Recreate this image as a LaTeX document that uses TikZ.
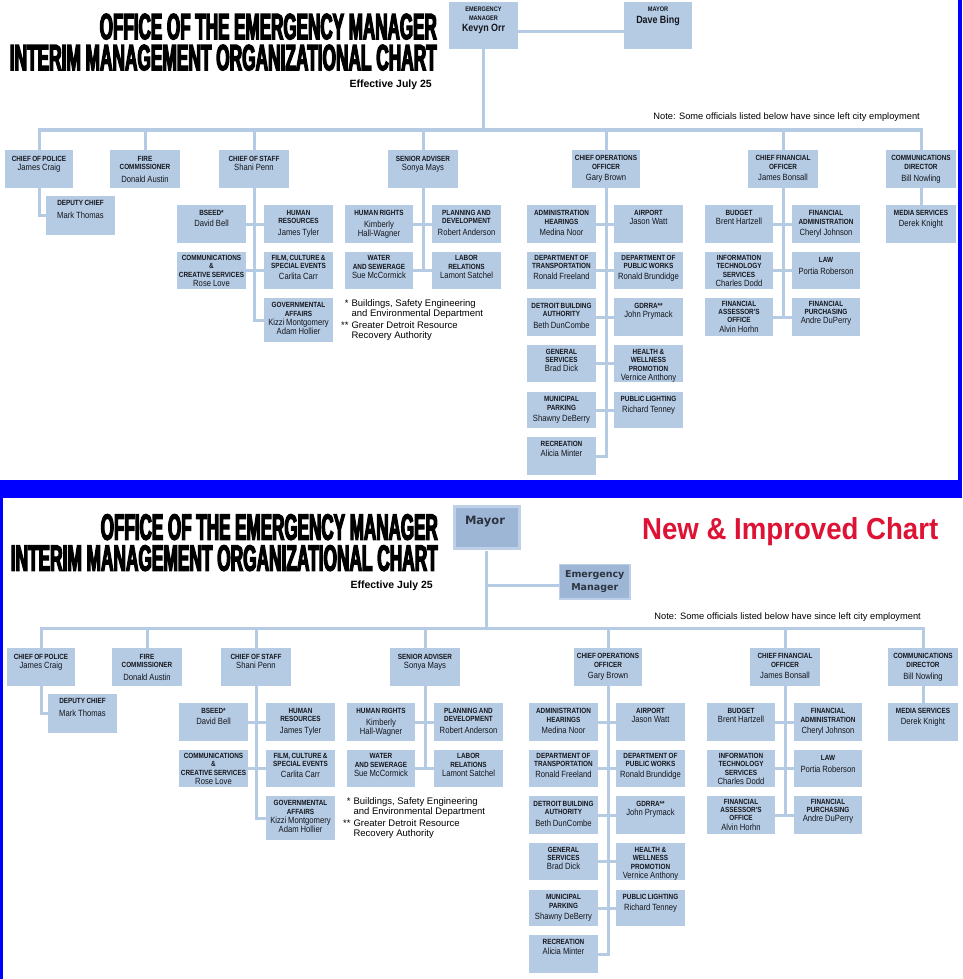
\documentclass[tikz,border=0pt]{standalone}
\usepackage{fontspec}
\usepackage{graphicx}
\setmainfont{Liberation Sans}
\newfontfamily\cf[FakeStretch=0.85]{Liberation Sans}
\newfontfamily\titlef[FakeStretch=0.5,FakeBold=3.5]{Liberation Sans}
\newfontfamily\vf{DejaVu Sans}
\definecolor{boxc}{RGB}{181,203,228}
\definecolor{linec}{RGB}{181,203,228}
\definecolor{txtc}{RGB}{20,22,28}
\definecolor{emc}{RGB}{157,182,214}
\definecolor{mayo}{RGB}{190,208,231}
\definecolor{bluebar}{RGB}{0,0,255}
\definecolor{newred}{RGB}{222,18,52}
\definecolor{hdrtxt}{RGB}{45,52,64}

\newcommand\ttl[1]{{\fontsize{7.5}{8.4}\selectfont\bfseries\spaceskip=1.2pt plus 0.5pt minus 0.3pt\relax #1\par}}
\newcommand\ttls[1]{{\fontsize{6.6}{9}\selectfont\bfseries\spaceskip=1.1pt plus 0.5pt\relax #1\par}}
\newcommand\nm[2][9.5]{{\fontsize{9}{#1}\selectfont\spaceskip=1.7pt plus 0.5pt minus 0.3pt\relax #2\par}}
\newcommand\nmb[2][11.5]{{\fontsize{10.5}{#1}\selectfont\bfseries\spaceskip=2pt plus 0.5pt\relax #2\par}}
\newcommand\titlelines{%
  \resizebox{337pt}{25.5pt}{\titlef\bfseries OFFICE OF THE EMERGENCY MANAGER}\\
  \resizebox{427pt}{25.5pt}{\titlef\bfseries INTERIM MANAGEMENT ORGANIZATIONAL CHART}}

\tikzset{
 obox/.style={fill=boxc, draw=none, inner sep=0pt, outer sep=0pt},
 otext/.style={font=\cf, align=center, inner sep=0pt, text=txtc},
 conn/.style={draw=linec, line width=3pt},
 fnote/.style={font={\fontsize{9.5}{9.3}\selectfont}, inner sep=0pt, text=black},
 notetext/.style={font={\fontsize{9.3}{10}\selectfont}, inner sep=0pt, text=black},
 titletext/.style={inner sep=0pt, text=black, align=right, font={\fontsize{10}{31}\selectfont}},
 efftext/.style={font={\fontsize{10.5}{12}\selectfont\bfseries}, inner sep=0pt, text=black},
 hdrbox/.style={fill=emc, draw=mayo, line width=1.5pt, inner sep=0pt},
 hdrtext/.style={font={\vf\bfseries}, text=hdrtxt, inner sep=0pt, align=center},
}

% optional offset, name, top-left, width, height, content
\newcommand\mkbox[6][5]{%
 \node[obox, minimum width=#4pt, minimum height=#5pt, anchor=north west] (#2) at (#3) {};
 \node[otext, text width=#4pt, anchor=north] (#2-t) at ([yshift=-#1pt]#2.north) {#6};%
}

\newcommand\chartbody[1]{%
 \coordinate (#1bus) at (0,130);
 % level 1
 \mkbox[6]{#1cop}{5,150}{68}{38}{\ttl{CHIEF OF POLICE}\nm[9.5]{James Craig}}
 \mkbox[6]{#1fire}{110,150}{70}{38}{\ttl{FIRE\\COMMISSIONER}\nm[12.5]{Donald Austin}}
 \mkbox[6]{#1cos}{219,150}{70}{38}{\ttl{CHIEF OF STAFF}\nm[9.2]{Shani Penn}}
 \mkbox[6]{#1sa}{388,150}{70}{38}{\ttl{SENIOR ADVISER}\nm[9.2]{Sonya Mays}}
 \mkbox[5.5]{#1coo}{572,150}{68}{38}{\ttl{CHIEF OPERATIONS\\OFFICER}\nm[11]{Gary Brown}}
 \mkbox[5.5]{#1cfo}{748,150}{70}{38}{\ttl{CHIEF FINANCIAL\\OFFICER}\nm[11]{James Bonsall}}
 \mkbox[5.5]{#1cd}{886,150}{70}{38}{\ttl{COMMUNICATIONS\\DIRECTOR}\nm[12.5]{Bill Nowling}}
 % police
 \mkbox[3.6]{#1dep}{46,196}{69}{39}{\ttl{DEPUTY CHIEF}\nm[13]{Mark Thomas}}
 % chief of staff
 \mkbox[5.3]{#1bseed}{177,205}{69}{38}{\ttl{BSEED*}\nm[10.5]{David Bell}}
 \mkbox[5]{#1hr}{264,205}{69}{38}{\ttl{HUMAN\\RESOURCES}\nm[11.5]{James Tyler}}
 \mkbox[3]{#1comm}{177,252}{69}{37}{\ttl{COMMUNICATIONS\\\&\\CREATIVE SERVICES}\nm[9]{Rose Love}}
 \mkbox[3]{#1film}{264,252}{69}{37}{\ttl{FILM, CULTURE \&\\SPECIAL EVENTS}\nm[10.5]{Carlita Carr}}
 \mkbox[4.3]{#1gov}{264,298}{69}{44}{\ttl{GOVERNMENTAL\\AFFAIRS}\nm[9.3]{Kizzi Montgomery}\nm[8.7]{Adam Hollier}}
 % senior adviser
 \mkbox[5.3]{#1hrt}{345,205}{68}{38}{\ttl{HUMAN RIGHTS}\nm[11.5]{Kimberly}\nm[9.7]{Hall-Wagner}}
 \mkbox[5]{#1pla}{432,205}{69}{38}{\ttl{PLANNING AND\\DEVELOPMENT}\nm[11.5]{Robert Anderson}}
 \mkbox[3.3]{#1wat}{345,252}{68}{37}{\ttl{WATER\\AND SEWERAGE}\nm[9]{Sue McCormick}}
 \mkbox[3.3]{#1lab}{432,252}{69}{37}{\ttl{LABOR\\RELATIONS}\nm[9]{Lamont Satchel}}
 % chief operations officer
 \mkbox[5.3]{#1adm}{527,205}{69}{38}{\ttl{ADMINISTRATION\\HEARINGS}\nm[11.2]{Medina Noor}}
 \mkbox[5.3]{#1air}{614,205}{69}{38}{\ttl{AIRPORT}\nm[9]{Jason Watt}}
 \mkbox[3]{#1dot}{527,252}{69}{37}{\ttl{DEPARTMENT OF\\TRANSPORTATION}\nm[11]{Ronald Freeland}}
 \mkbox[3]{#1dpw}{614,252}{69}{37}{\ttl{DEPARTMENT OF\\PUBLIC WORKS}\nm[11]{Ronald Brundidge}}
 \mkbox[5]{#1dba}{527,298}{69}{38}{\ttl{DETROIT BUILDING\\AUTHORITY}\nm[11.5]{Beth DunCombe}}
 \mkbox[5]{#1gdr}{614,298}{69}{38}{\ttl{GDRRA**}\nm[9]{John Prymack}}
 \mkbox[4]{#1gs}{527,345}{69}{37}{\ttl{GENERAL\\SERVICES}\nm[9]{Brad Dick}}
 \mkbox[4]{#1hw}{614,345}{69}{37}{\ttl{HEALTH \&\\WELLNESS\\PROMOTION}\nm[9]{Vernice Anthony}}
 \mkbox[4.3]{#1mp}{527,392}{69}{36}{\ttl{MUNICIPAL\\PARKING}\nm[11]{Shawny DeBerry}}
 \mkbox[4.3]{#1pl}{614,392}{69}{36}{\ttl{PUBLIC LIGHTING}\nm[10.5]{Richard Tenney}}
 \mkbox[4.3]{#1rec}{527,437}{69}{38}{\ttl{RECREATION}\nm[10]{Alicia Minter}}
 % chief financial officer
 \mkbox[5.3]{#1bud}{705,205}{68}{38}{\ttl{BUDGET}\nm[9]{Brent Hartzell}}
 \mkbox[5.3]{#1fad}{792,205}{68}{38}{\ttl{FINANCIAL\\ADMINISTRATION}\nm[11]{Cheryl Johnson}}
 \mkbox[3]{#1its}{705,252}{68}{37}{\ttl{INFORMATION\\TECHNOLOGY\\SERVICES}\nm[9.2]{Charles Dodd}}
 \mkbox[5.3]{#1law}{792,252}{68}{37}{\ttl{LAW}\nm[11.7]{Portia Roberson}}
 \mkbox[2.6]{#1fas}{705,298}{68}{38}{\ttl{FINANCIAL\\ASSESSOR'S\\OFFICE}\nm[9.2]{Alvin Horhn}}
 \mkbox[2.6]{#1fpu}{792,298}{68}{38}{\ttl{FINANCIAL\\PURCHASING}\nm[8.8]{Andre DuPerry}}
 % communications director
 \mkbox[5.3]{#1med}{886,205}{70}{38}{\ttl{MEDIA SERVICES}\nm[10.5]{Derek Knight}}
 % footnotes
 \node[fnote, anchor=north west] (#1fn) at (341,299.5) {%
   \begin{tabular}{@{}r@{\hspace{3pt}}l@{}}
   *& Buildings, Safety Engineering\\
    & and Environmental Department\\[2.7pt]
   **& Greater Detroit Resource\\
    & Recovery Authority
   \end{tabular}};
 % connectors
 \draw[conn, line cap=rect] (#1cop.north |- #1bus) -- (#1cd.north |- #1bus);
 \foreach \n in {cop,fire,cos,sa,coo,cfo,cd}
   \draw[conn] (#1\n.north) -- (#1\n.north |- #1bus);
 \draw[conn] (#1cop.south) |- (#1dep.west);
 \draw[conn] (#1cos.south) |- (#1gov.west);
 \draw[conn] (#1bseed.east) -- (#1hr.west);
 \draw[conn] (#1comm.east) -- (#1film.west);
 \draw[conn] (#1sa.south) -- (#1sa.south |- #1lab.west);
 \draw[conn] (#1hrt.east) -- (#1pla.west);
 \draw[conn] (#1wat.east) -- (#1lab.west);
 \draw[conn] (#1coo.south) |- (#1rec.east);
 \draw[conn] (#1adm.east) -- (#1air.west);
 \draw[conn] (#1dot.east) -- (#1dpw.west);
 \draw[conn] (#1dba.east) -- (#1gdr.west);
 \draw[conn] (#1gs.east) -- (#1hw.west);
 \draw[conn] (#1mp.east) -- (#1pl.west);
 \draw[conn] (#1cfo.south) -- (#1cfo.south |- #1fas.east);
 \draw[conn] (#1bud.east) -- (#1fad.west);
 \draw[conn] (#1its.east) -- (#1law.west);
 \draw[conn] (#1fas.east) -- (#1fpu.west);
 \draw[conn] (#1cd.south) -- (#1med.north);
}

\begin{document}
\begin{tikzpicture}[x=1pt, y=-1pt]
\useasboundingbox (0,0) rectangle (962,979);
\fill[white] (0,0) rectangle (962,979);
% blue frame parts
\fill[bluebar] (0,480) rectangle (962,498);
\fill[bluebar] (958,0) rectangle (962,480);
\fill[bluebar] (0,498) rectangle (3,979);

% ================= TOP PANEL =================
\node[titletext, anchor=north east] (ttitle) at (437,13.5) {\titlelines};
\node[efftext, anchor=base east] (teff) at (432,88) {Effective July 25};
\node[notetext, anchor=east] (tnote) at (920,117) {Note: Some officials listed below have since left city employment};

\mkbox[4.6]{tem}{449,2}{69}{47}{\ttls{EMERGENCY\\MANAGER}\nmb[11.4]{Kevyn Orr}}
\mkbox[4.6]{tmayor}{624,2}{68}{47}{\ttls{MAYOR}\nmb[12.4]{Dave Bing}}
\coordinate (temj) at (518,32);
\draw[conn] (temj) -- (temj -| tmayor.west);

\chartbody{t}
\draw[conn] (tem.south) -- (tem.south |- tbus);

% ================= BOTTOM PANEL =================
\node[titletext, anchor=north east] (btitle) at (438,514) {\titlelines};
\node[efftext, anchor=base east] (beff) at (433,588.5) {Effective July 25};
\node[notetext, anchor=east] (bnote) at (921,617) {Note: Some officials listed below have since left city employment};

\node[inner sep=0pt, anchor=north west] (bnew) at (642,517)
  {\resizebox{296pt}{22pt}{\color{newred}\bfseries New \& Improved Chart}};

\node[hdrbox, line width=3pt, minimum width=65pt, minimum height=42pt, anchor=north west] (bmayor) at (452.5,504.5) {};
\node[hdrtext, font={\vf\bfseries\fontsize{11.5}{13}\selectfont}] (bmayor-t) at (485,522) {Mayor};
\node[hdrbox, minimum width=70.5pt, minimum height=34.5pt, anchor=north west] (bem) at (558.75,563.75) {};
\node[hdrtext, font={\vf\bfseries\fontsize{9.5}{13}\selectfont}] (bem-t) at (bem.center) {Emergency\\Manager};

\begin{scope}[shift={(2,498)}]
\chartbody{b}
\end{scope}
\draw[conn] ([yshift=-1.5pt]bmayor.south) -- (bmayor.south |- bbus);
\coordinate (bemj) at (485,585);
\draw[conn] (bemj) -- (bemj -| bem.west);
\end{tikzpicture}
\end{document}
